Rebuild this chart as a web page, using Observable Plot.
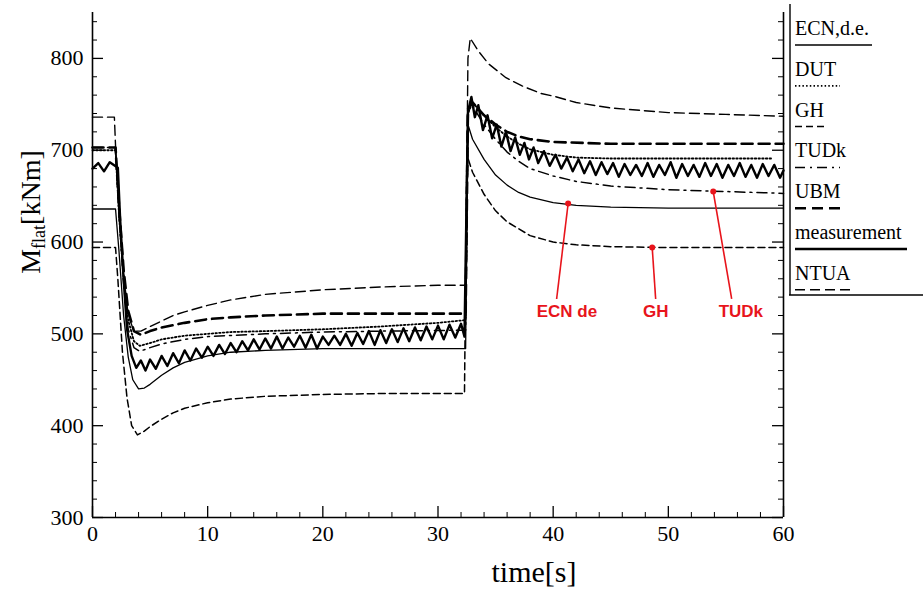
<!DOCTYPE html>
<html><head><meta charset="utf-8">
<script src="https://cdn.jsdelivr.net/npm/d3@7"></script>
<script src="https://cdn.jsdelivr.net/npm/@observablehq/plot@0.6"></script>
<style>
html,body{margin:0;padding:0;background:#fff;}
#chart{position:relative;width:923px;height:590px;overflow:hidden;}
</style></head><body><div id="chart"></div>
<script>
// ---------- data ----------
const seriesNames = ["ECN,d.e.", "DUT", "GH", "TUDk", "UBM", "measurement", "NTUA"];

const ecnT = [0, 2.0, 2.3, 2.7, 3.1, 3.5, 4.0, 4.5, 5, 6, 7, 8, 10, 12, 15, 20, 25, 32.4, 32.6, 33, 34, 35, 36, 37, 38, 40, 42, 45, 50, 55, 60];
const ecnV = [636, 636, 590, 520, 475, 450, 440, 441, 445, 455, 463, 469, 476, 480, 482, 484, 484, 484, 728, 712, 690, 673, 662, 654, 649, 643, 640, 638, 637, 637, 637];

const dutT = [0, 2.0, 2.3, 2.7, 3.1, 3.6, 4.1, 5, 6, 8, 10, 12, 15, 20, 25, 30, 32.4, 32.6, 33, 34, 35, 36, 37, 38, 40, 42, 45, 50, 55, 59];
const dutV = [700, 700, 630, 560, 515, 492, 487, 490, 494, 498, 500, 502, 503, 505, 508, 512, 515, 740, 752, 738, 725, 715, 707, 701, 695, 692, 691, 691, 691, 691];

const ghT = [0, 2.0, 2.2, 2.6, 3.0, 3.4, 3.9, 4.5, 5, 6, 7, 8, 10, 12, 15, 20, 25, 32.3, 32.5, 33, 34, 35, 36, 38, 40, 42, 45, 50, 60];
const ghV = [594, 594, 560, 480, 430, 400, 390, 394, 399, 407, 414, 419, 425, 429, 432, 434, 435, 435, 695, 676, 652, 634, 622, 607, 600, 597, 595, 594, 594];

const tudkT = [0, 2.0, 2.3, 2.7, 3.1, 3.6, 4.1, 5, 6, 8, 10, 15, 20, 25, 32.4, 32.6, 33, 34, 35, 36, 37, 38, 40, 42, 45, 50, 55, 60];
const tudkV = [703, 703, 630, 555, 505, 485, 481, 485, 489, 494, 497, 500, 502, 503, 504, 742, 748, 728, 712, 698, 688, 680, 672, 666, 661, 657, 655, 653];

const ubmT = [0, 2.0, 2.3, 2.7, 3.1, 3.6, 4.2, 5, 6, 8, 10, 12, 15, 20, 25, 32.4, 32.6, 33, 34, 35, 36, 37, 38, 40, 45, 50, 60];
const ubmV = [703, 703, 640, 570, 525, 503, 499, 503, 507, 512, 516, 518, 520, 522, 522, 522, 745, 752, 738, 728, 720, 715, 712, 709, 707, 707, 707];

const measT = [0, 0.5, 1, 1.5, 2.2, 2.4, 2.7, 3.0, 3.4, 3.8, 4.2, 4.6,
  5.0, 5.5, 6, 6.5, 7, 7.5, 8, 8.5, 9, 9.5, 10, 10.5, 11, 11.5, 12, 12.5, 13, 13.5, 14, 14.5, 15, 15.5,
  16, 16.5, 17, 17.5, 18, 18.5, 19, 19.5, 20, 20.5, 21, 21.5, 22, 22.5, 23, 23.5, 24, 24.5, 25, 25.5,
  26, 26.5, 27, 27.5, 28, 28.5, 29, 29.5, 30, 30.5, 31, 31.5, 32, 32.3,
  32.6, 32.9, 33.2, 33.5, 33.9, 34.3, 34.7, 35.1, 35.5, 35.9, 36.3, 36.7, 37.1, 37.5, 37.9, 38.3, 38.7,
  39.2, 39.7, 40.2, 40.7, 41.2, 41.7, 42.2, 42.7, 43.2, 43.7, 44.2, 44.7, 45.2, 45.7, 46.2, 46.7, 47.2,
  47.7, 48.2, 48.7, 49.2, 49.7, 50.2, 50.7, 51.2, 51.7, 52.2, 52.7, 53.2, 53.7, 54.2, 54.7, 55.2, 55.7,
  56.2, 56.7, 57.2, 57.7, 58.2, 58.7, 59.2, 59.7, 60];
const measV = [680, 686, 677, 687, 681, 625, 560, 505, 476, 463, 471, 460,
  472, 462, 476, 465, 479, 468, 482, 471, 484, 474, 486, 476, 488, 478, 490, 480, 492, 482, 494, 483, 495, 484,
  497, 484, 496, 486, 498, 485, 499, 484, 497, 488, 498, 488, 500, 487, 501, 489, 503, 488, 504, 490,
  505, 491, 506, 492, 507, 493, 508, 494, 509, 494, 510, 496, 511, 497,
  742, 758, 736, 749, 722, 738, 713, 728, 704, 720, 699, 714, 695, 708, 690, 703, 686,
  699, 683, 695, 680, 692, 677, 690, 675, 688, 673, 687, 674, 686, 671, 685, 673, 684,
  672, 686, 671, 684, 673, 687, 670, 685, 672, 684, 671, 686, 672, 685, 670, 684, 672,
  686, 671, 684, 670, 685, 672, 684, 670, 678];

const ntuaT = [0, 1.9, 2.0, 2.3, 2.7, 3.1, 3.6, 4.2, 5, 6, 7, 8, 10, 12, 15, 20, 25, 30, 32.4, 32.6, 32.8, 33.5, 34.4, 35.9, 37.3, 38.9, 40, 42, 45, 50, 55, 60];
const ntuaV = [736, 736, 705, 640, 565, 520, 503, 503, 508, 514, 520, 524, 531, 537, 543, 548, 551, 553, 553, 800, 822, 808, 794, 779, 770, 762, 759, 752, 746, 741, 739, 737];

const xMajor = [0, 10, 20, 30, 40, 50, 60];
const yMajor = [300, 400, 500, 600, 700, 800];

// red annotations
const annLabel = ["ECN de", "GH", "TUDk"];
const annPointX = [41.3, 48.6, 53.9];
const annPointY = [642, 594, 655];
const annEndX = [40.3, 48.9, 55.5];
const annEndY = [538, 538, 538];
const annTextX = [41.2, 48.9, 56.3];
const annTextY = [524, 524, 524];

// ---------- styles ----------
const styles = {
  "ECN,d.e.":    {w: 1.3, dash: null,        sample: 77},
  "DUT":         {w: 1.8, dash: "1.5,2.2",   sample: 45},
  "GH":          {w: 1.5, dash: "7,4",       sample: 31},
  "TUDk":        {w: 1.5, dash: "10,5,2,5",  sample: 45},
  "UBM":         {w: 2.6, dash: "11,6",      sample: 47},
  "measurement": {w: 2.4, dash: null,        sample: 112},
  "NTUA":        {w: 1.4, dash: "10,5",      sample: 57}
};

const seriesData = {
  "ECN,d.e.": [ecnT, ecnV], "DUT": [dutT, dutV], "GH": [ghT, ghV], "TUDk": [tudkT, tudkV],
  "UBM": [ubmT, ubmV], "measurement": [measT, measV], "NTUA": [ntuaT, ntuaV]
};
const rowsOf = name => seriesData[name][0].map((t, i) => ({t, v: seriesData[name][1][i]}));

const anns = annLabel.map((label, i) => ({label, px: annPointX[i], py: annPointY[i], ex: annEndX[i], ey: annEndY[i], tx: annTextX[i], ty: annTextY[i]}));

const W = 923, H = 590, mL = 92, mR = 140, mT = 12, mB = 73;
const innerW = W - mL - mR, innerH = H - mT - mB;
const xMinor = d3.range(0, 61, 2).filter(d => d % 10 !== 0);
const yMinor = d3.range(300, 851, 20).filter(d => d % 100 !== 0);

const drawOrder = ["NTUA", "GH", "ECN,d.e.", "TUDk", "DUT", "UBM", "measurement"];
const lineMarks = drawOrder.map(name => Plot.line(rowsOf(name), {
  x: "t", y: "v", stroke: "#000", strokeWidth: styles[name].w,
  strokeDasharray: styles[name].dash || undefined, curve: "linear", strokeLinejoin: "round"
}));

const serif = "'Liberation Serif', 'Times New Roman', serif";

const chart = Plot.plot({
  width: W, height: H,
  marginLeft: mL, marginRight: mR, marginTop: mT, marginBottom: mB,
  x: {domain: [0, 60], label: null},
  y: {domain: [300, 850], label: null},
  style: {fontFamily: serif, color: "#000", background: "#fff"},
  marks: [
    // inward ticks
    Plot.tickX(xMajor, {x: d => d, insetTop: innerH - 11, stroke: "#000", strokeWidth: 1.3}),
    Plot.tickX(xMinor, {x: d => d, insetTop: innerH - 5, stroke: "#000", strokeWidth: 1}),
    Plot.tickY(yMajor, {y: d => d, insetRight: innerW - 11, stroke: "#000", strokeWidth: 1.3}),
    Plot.tickY(yMinor, {y: d => d, insetRight: innerW - 5, stroke: "#000", strokeWidth: 1}),
    Plot.tickY(yMajor, {y: d => d, insetLeft: innerW - 11, stroke: "#000", strokeWidth: 1.3}),
    Plot.tickY(yMinor, {y: d => d, insetLeft: innerW - 5, stroke: "#000", strokeWidth: 1}),
    // frame (left, right, bottom)
    Plot.ruleX([0, 60], {stroke: "#000", strokeWidth: 1.6}),
    Plot.ruleY([300], {stroke: "#000", strokeWidth: 1.6}),
    // tick labels
    Plot.axisX(xMajor, {tickSize: 0, tickPadding: 8, fontSize: 22, label: null}),
    Plot.axisY(yMajor, {tickSize: 0, tickPadding: 9, fontSize: 22, label: null}),
    ...lineMarks,
    // annotations
    Plot.link(anns, {x1: "px", y1: "py", x2: "ex", y2: "ey", stroke: "#e8141b", strokeWidth: 1.6}),
    Plot.dot(anns, {x: "px", y: "py", r: 3, fill: "#e8141b", stroke: null}),
    Plot.text(anns, {x: "tx", y: "ty", text: "label", fill: "#e8141b", fontWeight: "bold",
      fontFamily: "'Liberation Sans', Arial, sans-serif", fontSize: 17})
  ]
});

document.getElementById("chart").appendChild(chart);
const svg = d3.select(chart);

// axis titles
const yt = svg.append("text")
  .attr("transform", "translate(40,212) rotate(-90)")
  .attr("text-anchor", "middle").attr("font-family", serif).attr("font-size", 28).attr("fill", "#000");
yt.append("tspan").text("M");
yt.append("tspan").attr("font-size", 18).attr("dy", 5).text("flat");
yt.append("tspan").attr("dy", -5).text("[kNm]");

svg.append("text").attr("x", 534).attr("y", 582).attr("text-anchor", "middle")
  .attr("font-family", serif).attr("font-size", 30).attr("fill", "#000").text("time[s]");

// legend at right
const lg = svg.append("g").attr("font-family", serif).attr("font-size", 20).attr("fill", "#000")
  .attr("text-anchor", "start");
lg.append("line").attr("x1", 790).attr("x2", 790).attr("y1", 4).attr("y2", 295).attr("stroke", "#000").attr("stroke-width", 1.4);
lg.append("line").attr("x1", 789).attr("x2", 923).attr("y1", 295).attr("y2", 295).attr("stroke", "#000").attr("stroke-width", 1.6);
seriesNames.forEach((name, i) => {
  const base = 35 + i * 40.8;
  lg.append("text").attr("x", 795).attr("y", base).attr("text-anchor", "start").text(name);
  const s = styles[name];
  lg.append("line").attr("x1", 795).attr("x2", 795 + s.sample)
    .attr("y1", base + 10).attr("y2", base + 10)
    .attr("stroke", "#000").attr("stroke-width", s.w)
    .attr("stroke-dasharray", s.dash || null);
});
</script>
</body></html>
